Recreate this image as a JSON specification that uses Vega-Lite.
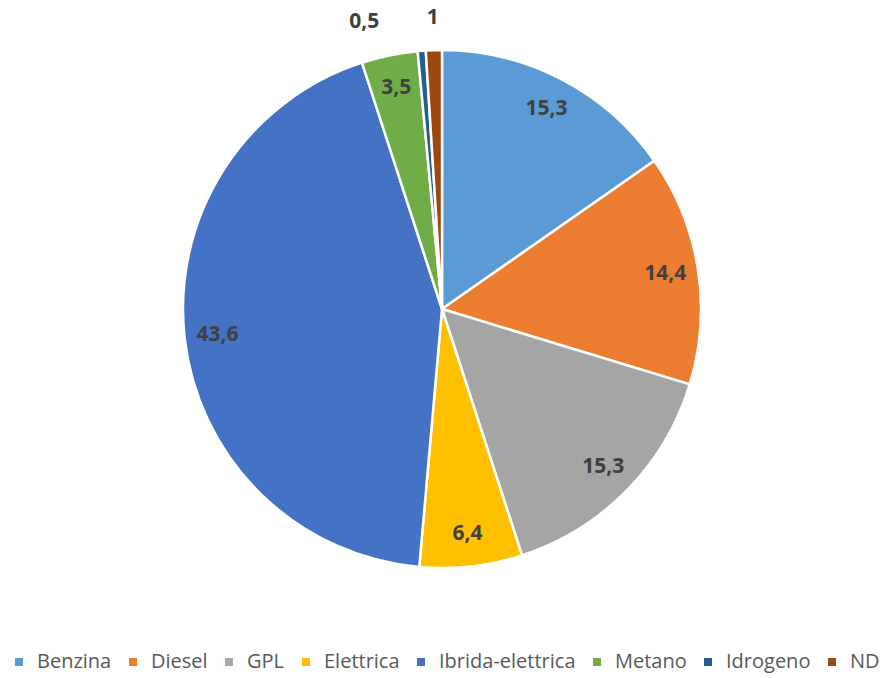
{
  "$schema": "https://vega.github.io/schema/vega-lite/v6.json",
  "width": 884,
  "height": 618,
  "autosize": {"type": "none"},
  "padding": {"top": 0, "left": 0, "right": 0, "bottom": 60},
  "background": "white",
  "data": {
    "values": [
      {"i": 1, "category": "Benzina", "value": 15.3, "label": "15,3"},
      {"i": 2, "category": "Diesel", "value": 14.4, "label": "14,4"},
      {"i": 3, "category": "GPL", "value": 15.3, "label": "15,3"},
      {"i": 4, "category": "Elettrica", "value": 6.4, "label": "6,4"},
      {"i": 5, "category": "Ibrida-elettrica", "value": 43.6, "label": "43,6"},
      {"i": 6, "category": "Metano", "value": 3.5, "label": "3,5"},
      {"i": 7, "category": "Idrogeno", "value": 0.5, "label": "0,5"},
      {"i": 8, "category": "ND", "value": 1, "label": "1"}
    ]
  },
  "encoding": {
    "theta": {"field": "value", "type": "quantitative", "stack": true},
    "order": {"field": "i", "type": "quantitative"}
  },
  "layer": [
    {
      "mark": {"type": "arc", "outerRadius": 259, "stroke": "white", "strokeWidth": 2.5},
      "encoding": {
        "color": {
          "field": "category",
          "type": "nominal",
          "scale": {
            "domain": ["Benzina", "Diesel", "GPL", "Elettrica", "Ibrida-elettrica", "Metano", "Idrogeno", "ND"],
            "range": ["#5B9BD5", "#ED7D31", "#A5A5A5", "#FFC000", "#4472C4", "#70AD47", "#255E91", "#9E480E"]
          },
          "legend": {
            "title": null,
            "orient": "bottom",
            "direction": "horizontal",
            "offset": 25,
            "padding": 9,
            "symbolType": "square",
            "symbolSize": 64,
            "symbolStrokeWidth": 0,
            "labelFont": "Open Sans",
            "labelFontSize": 20,
            "labelColor": "#595959",
            "labelOffset": 8,
            "columnPadding": 11,
            "labelLimit": 300
          }
        }
      }
    },
    {
      "mark": {"type": "text", "radius": 226, "font": "Open Sans", "fontWeight": "bold", "fontSize": 21, "fill": "#404040"},
      "encoding": {
        "detail": {"field": "category", "type": "nominal"},
        "text": {"condition": {"test": "datum.value >= 3", "field": "label"}, "value": ""}
      }
    },
    {
      "mark": {"type": "text", "radius": 291, "font": "Open Sans", "fontWeight": "bold", "fontSize": 21, "fill": "#404040"},
      "encoding": {
        "detail": {"field": "category", "type": "nominal"},
        "text": {"condition": {"test": "datum.category === 'ND'", "field": "label"}, "value": ""}
      }
    },
    {
      "mark": {"type": "text", "radius": 291, "dx": -55, "dy": 3, "font": "Open Sans", "fontWeight": "bold", "fontSize": 21, "fill": "#404040"},
      "encoding": {
        "detail": {"field": "category", "type": "nominal"},
        "text": {"condition": {"test": "datum.category === 'Idrogeno'", "field": "label"}, "value": ""}
      }
    }
  ]
}
